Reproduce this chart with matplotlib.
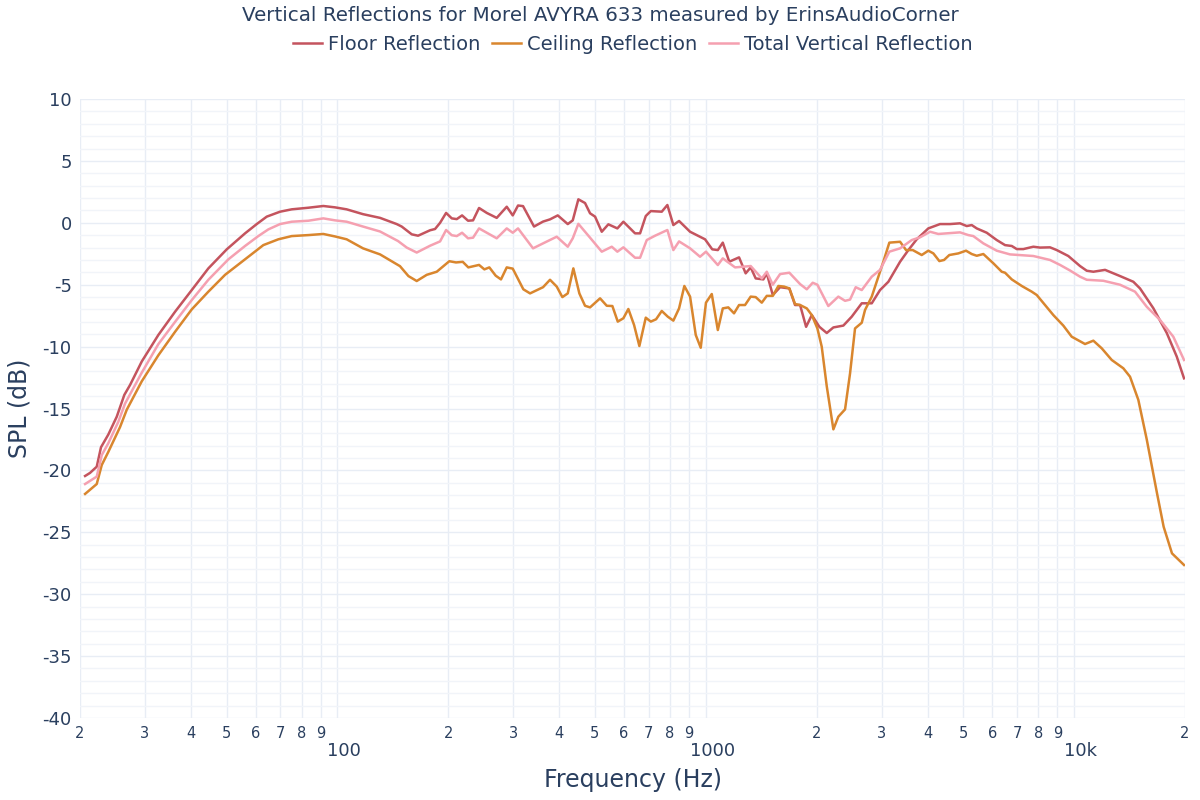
import numpy as np
import matplotlib
matplotlib.use("Agg")
import matplotlib.pyplot as plt
from matplotlib.ticker import FixedLocator, NullFormatter

plt.rcParams['font.family'] = ['DejaVu Sans']
plt.rcParams['axes.unicode_minus'] = False

# values (frequency in Hz, level in dB)
floor_f = [20.64, 21.29, 22.20, 22.80, 23.87, 25.16, 26.38, 27.34, 29.42, 32.63,
           36.23, 40.21, 44.61, 50.05, 56.11, 60.36, 64.26, 69.84, 75.12, 83.35,
           91.53, 98.48, 105.9, 117.3, 130.5, 144.8, 149.4, 159.1, 165.5, 178.4,
           184.0, 189.9, 197.2, 204.3, 210.8, 217.9, 226.2, 233.4, 242.3, 254.3,
           270.6, 288.1, 299.1, 309.2, 319.0, 341.7, 361.5, 377.6, 396.3, 421.9,
           435.3, 450.8, 470.0, 485.0, 500.4, 521.8, 543.8, 575.3, 597.3, 642.6,
           663.0, 687.1, 708.9, 759.3, 786.4, 816.4, 846.1, 906.3, 995.2, 1041,
           1078, 1112, 1158, 1231, 1283, 1324, 1366, 1433, 1464, 1520,
           1591, 1686, 1747, 1803, 1872, 1940, 2034, 2130, 2220, 2363,
           2490, 2651, 2822, 2972, 3131, 3369, 3548, 3739, 4019, 4324,
           4603, 4900, 5110, 5272, 5440, 5791, 6164, 6493, 6771, 6986,
           7280, 7749, 8081, 8601, 8970, 9643, 10376, 10821, 11277, 12134,
           13324, 14480, 15099, 16410, 17845, 18992, 19878]
floor_db = [-20.45, -20.2, -19.7, -18.13, -17.1, -15.66, -13.9, -13.1, -11.2, -9.06,
            -7.18, -5.43, -3.68, -2.14, -0.85, -0.1, 0.5, 0.9, 1.09, 1.22,
            1.36, 1.25, 1.09, 0.7, 0.4, -0.1, -0.3, -0.93, -1.04, -0.6,
            -0.5, 0.0, 0.8, 0.36, 0.3, 0.6, 0.17, 0.2, 1.2, 0.8,
            0.4, 1.3, 0.6, 1.4, 1.35, -0.3, 0.1, 0.28, 0.6, -0.1,
            0.2, 1.9, 1.6, 0.77, 0.5, -0.72, -0.12, -0.45, 0.09, -0.85,
            -0.85, 0.55, 0.95, 0.9, 1.44, -0.18, 0.15, -0.72, -1.33, -2.14,
            -2.2, -1.6, -3.14, -2.79, -4.08, -3.6, -4.49, -4.57, -4.08, -5.83,
            -5.2, -5.3, -6.64, -6.64, -8.4, -7.45, -8.4, -8.9, -8.45, -8.3,
            -7.58, -6.5, -6.5, -5.43, -4.76, -3.14, -2.2, -1.33, -0.45, -0.1,
            -0.1, -0.04, -0.26, -0.18, -0.45, -0.8, -1.39, -1.8, -1.87, -2.12,
            -2.12, -1.93, -2.0, -1.98, -2.2, -2.68, -3.49, -3.87, -3.95, -3.8,
            -4.3, -4.76, -5.3, -6.9, -8.9, -10.8, -12.56]

ceiling_f = [20.64, 22.20, 22.91, 23.87, 25.68, 26.78, 29.42, 32.63, 36.23, 40.21,
             44.61, 49.52, 56.11, 62.90, 69.10, 75.12, 83.35, 91.53, 98.48, 105.9,
             117.3, 130.5, 147.8, 155.8, 164.1, 174.7, 186.0, 201.2, 209.8, 218.8,
             226.6, 242.3, 250.5, 258.4, 268.9, 277.9, 288.1, 299.1, 319.6, 333.3,
             361.5, 377.6, 393.8, 407.9, 421.9, 436.9, 453.6, 470.0, 485.0, 516.3,
             538.4, 557.6, 576.7, 597.3, 616.2, 638.6, 660.1, 687.1, 708.9, 732.8,
             759.3, 788.4, 816.4, 846.1, 874.5, 906.3, 939.1, 968.8, 1001, 1038,
             1078, 1112, 1151, 1193, 1231, 1278, 1324, 1366, 1419, 1464,
             1520, 1574, 1631, 1686, 1747, 1803, 1880, 1940, 2009, 2064,
             2130, 2220, 2290, 2388, 2464, 2542, 2651, 2706, 2822, 2940,
             3034, 3150, 3369, 3497, 3646, 3857, 4019, 4148, 4306, 4435,
             4583, 4848, 5087, 5272, 5440, 5669, 6035, 6360, 6493, 6771,
             7208, 7672, 7916, 8337, 8781, 9346, 9851, 10706, 11277, 11887,
             12652, 13601, 14183, 14939, 15747, 16791, 17500, 18437, 19878]
ceiling_db = [-21.9, -21.1, -19.56, -18.5, -16.5, -15.1, -12.8, -10.7, -8.8, -6.99,
              -5.56, -4.2, -2.95, -1.8, -1.33, -1.07, -0.99, -0.9, -1.1, -1.33,
              -2.06, -2.55, -3.5, -4.3, -4.7, -4.2, -3.95, -3.1, -3.2, -3.15,
              -3.6, -3.4, -3.76, -3.6, -4.27, -4.57, -3.6, -3.7, -5.37, -5.7,
              -5.2, -4.6, -5.15, -6.0, -5.7, -3.68, -5.7, -6.7, -6.83, -6.1,
              -6.7, -6.72, -7.98, -7.71, -6.96, -8.25, -9.95, -7.66, -7.98, -7.79,
              -7.12, -7.58, -7.9, -6.91, -5.1, -5.96, -9.06, -10.09, -6.45, -5.75,
              -8.66, -6.91, -6.83, -7.31, -6.64, -6.64, -5.96, -6.0, -6.45, -5.9,
              -5.9, -5.1, -5.15, -5.3, -6.56, -6.64, -6.91, -7.45, -8.53, -10.0,
              -13.2, -16.68, -15.66, -15.07, -12.16, -8.53, -8.07, -7.04, -5.96, -4.35,
              -3.14, -1.6, -1.53, -2.2, -2.2, -2.6, -2.25, -2.47, -3.09, -3.0,
              -2.6, -2.47, -2.25, -2.52, -2.66, -2.52, -3.27, -3.95, -4.03, -4.57,
              -5.1, -5.56, -5.83, -6.64, -7.45, -8.3, -9.2, -9.79, -9.52, -10.14,
              -11.08, -11.75, -12.43, -14.3, -17.5, -21.85, -24.55, -26.7, -27.64]

total_f = [20.64, 22.20, 22.91, 23.87, 25.41, 26.50, 27.63, 29.42, 32.63, 36.23,
           40.21, 44.61, 50.55, 56.11, 60.97, 64.90, 69.84, 75.12, 83.35, 91.53,
           98.48, 105.9, 117.3, 130.5, 146.0, 154.2, 164.1, 178.4, 189.9, 197.2,
           204.3, 210.8, 217.9, 226.2, 233.4, 242.3, 270.6, 288.1, 299.1, 309.2,
           339.6, 361.5, 393.8, 421.9, 435.3, 450.8, 485.0, 521.8, 555.5, 575.3,
           597.3, 642.6, 663.0, 691.4, 728.2, 786.4, 816.4, 846.1, 906.3, 964.6,
           1001, 1078, 1112, 1201, 1324, 1419, 1464, 1520, 1591, 1686,
           1803, 1880, 1951, 2009, 2151, 2290, 2388, 2464, 2553, 2651,
           2822, 2972, 3150, 3369, 3624, 3816, 4063, 4278, 4900, 5161,
           5325, 5669, 6164, 6698, 7749, 8601, 9157, 9746, 10376, 10821,
           12006, 13324, 14634, 15747, 17113, 18592, 19878]
total_db = [-21.1, -20.5, -18.76, -17.8, -16.07, -14.6, -13.6, -12.1, -9.8, -8.0,
            -6.24, -4.6, -2.95, -1.87, -1.07, -0.53, -0.1, 0.09, 0.17, 0.36,
            0.2, 0.09, -0.3, -0.7, -1.47, -2.0, -2.4, -1.85, -1.5, -0.58,
            -1.0, -1.07, -0.8, -1.25, -1.2, -0.45, -1.25, -0.45, -0.8, -0.45,
            -2.06, -1.66, -1.12, -1.93, -1.25, -0.08, -1.2, -2.33, -1.93, -2.33,
            -1.98, -2.82, -2.82, -1.39, -1.04, -0.58, -2.2, -1.5, -2.06, -2.74,
            -2.33, -3.41, -2.87, -3.6, -3.49, -4.49, -3.95, -5.0, -4.14, -4.03,
            -4.95, -5.37, -4.84, -5.0, -6.72, -5.96, -6.3, -6.2, -5.2, -5.43,
            -4.35, -3.8, -2.33, -2.06, -1.39, -1.17, -0.72, -0.9, -0.77, -0.99,
            -1.07, -1.66, -2.25, -2.55, -2.68, -3.0, -3.4, -3.85, -4.35, -4.6,
            -4.68, -5.0, -5.56, -6.78, -7.85, -9.2, -11.08]

series = [
    ("Floor Reflection", floor_f, floor_db, "#C4545E"),
    ("Ceiling Reflection", ceiling_f, ceiling_db, "#D9862E"),
    ("Total Vertical Reflection", total_f, total_db, "#F5A0B0"),
]

text_color = "#2a3f5f"
grid_major = "#E8EDF5"
grid_minor = "#F1F4F9"

fig = plt.figure(figsize=(12, 8), dpi=100)
ax = fig.add_axes([0.0667, 0.1025, 0.9208, 0.7737])

for name, f, db, col in series:
    ax.plot(f, db, color=col, lw=1.8, label=name, zorder=3)

ax.set_xscale("log")
ax.set_xlim(20, 20000)
ax.set_ylim(-40, 10)

# x ticks: digits for every 2..9, decade labels placed lower
minor_pos = []
minor_lab = []
for dec in [10, 100, 1000]:
    for k in range(2, 10):
        minor_pos.append(k * dec)
        minor_lab.append(str(k))
minor_pos.append(20000)
minor_lab.append("2")
ax.xaxis.set_major_locator(FixedLocator(minor_pos))
ax.set_xticklabels(minor_lab, fontsize=10.5, color=text_color)
ax.xaxis.set_minor_locator(FixedLocator([100, 1000, 10000]))
ax.xaxis.set_minor_formatter(NullFormatter())
for xv, lab in [(100, "100"), (1000, "1000"), (10000, "10k")]:
    ax.text(xv * 1.04, -0.038, lab, transform=ax.get_xaxis_transform(), ha="center",
            va="top", fontsize=13, color=text_color)

ax.set_yticks(np.arange(-40, 11, 5))
ax.set_yticks(np.arange(-40, 11, 1), minor=True)
ax.tick_params(axis="y", which="both", length=0, pad=6, labelsize=13, labelcolor=text_color)
ax.tick_params(axis="x", which="both", length=0, pad=6, labelcolor=text_color)

ax.grid(True, which="major", axis="x", color=grid_major, lw=1, zorder=0)
ax.grid(True, which="minor", axis="x", color=grid_major, lw=1, zorder=0)
ax.grid(True, which="major", axis="y", color=grid_major, lw=1, zorder=0)
ax.grid(True, which="minor", axis="y", color=grid_minor, lw=1, zorder=0)
for s in ax.spines.values():
    s.set_visible(False)

ax.set_xlabel("Frequency (Hz)", fontsize=17, color=text_color, labelpad=19)
ax.set_ylabel("SPL (dB)", fontsize=17, color=text_color, labelpad=8)

fig.suptitle("Vertical Reflections for Morel AVYRA 633 measured by ErinsAudioCorner",
             x=0.5, y=0.993, fontsize=14.3, color=text_color)
fig.legend(loc="upper center", bbox_to_anchor=(0.527, 0.978), ncol=3, frameon=False,
           fontsize=14, handlelength=1.5, handletextpad=0.3, columnspacing=0.6,
           labelcolor=text_color)

fig.savefig("out.png", dpi=100, facecolor="white")
